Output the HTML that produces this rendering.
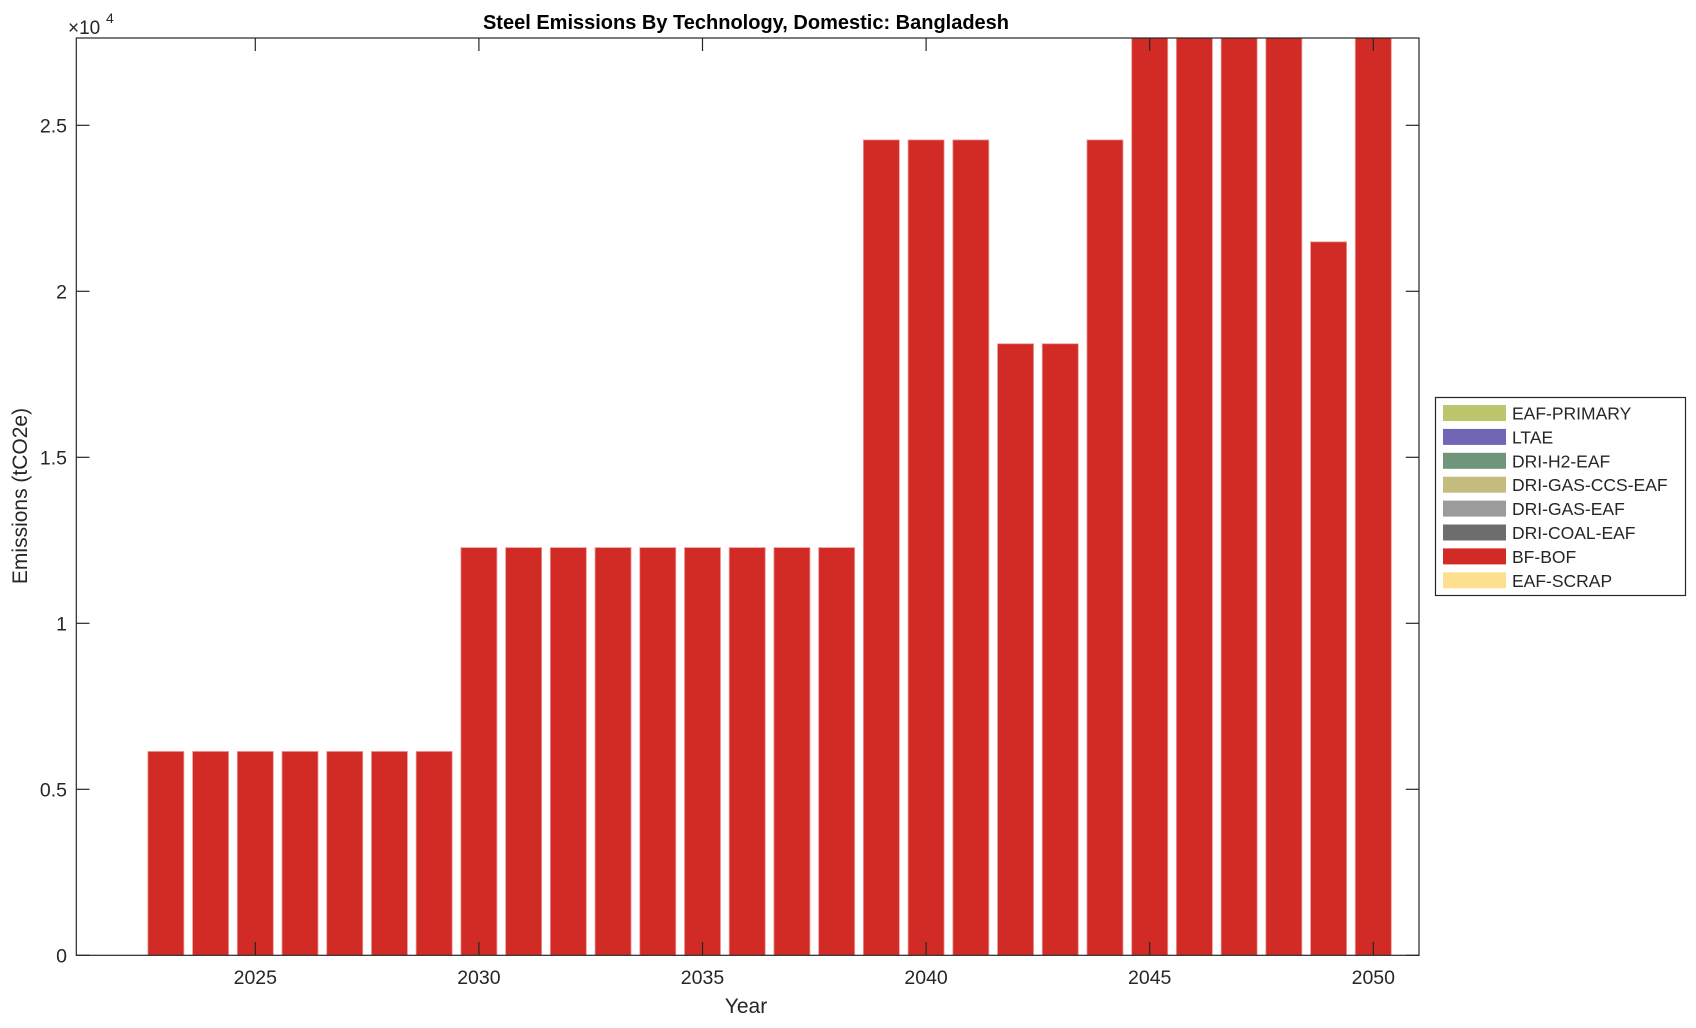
<!DOCTYPE html>
<html><head><meta charset="utf-8"><style>
body{margin:0;background:#fff;}
svg text{font-family:"Liberation Sans",Arial,sans-serif;fill:#262626;}
</style></head><body>
<svg width="1696" height="1023" xmlns="http://www.w3.org/2000/svg">
<rect width="1696" height="1023" fill="#fff"/>
<g id="bars" fill="#d22b25" stroke="#e89a96" stroke-width="0.8"></g>
<g stroke="#262626" stroke-width="1.2" fill="none">
<rect x="76.3" y="38" width="1342.7" height="917.3"/>
</g>
<g id="ticks" stroke="#262626" stroke-width="1.2"></g>
<g id="labels" font-size="19.5"></g>
<text x="746" y="29" font-size="20" font-weight="bold" text-anchor="middle" style="fill:#000">Steel Emissions By Technology, Domestic: Bangladesh</text>
<text x="68" y="34" font-size="19">×10</text><text x="106" y="23" font-size="14">4</text>
<text x="746" y="1013" font-size="21" text-anchor="middle">Year</text>
<text transform="translate(27,496) rotate(-90)" font-size="21" text-anchor="middle">Emissions (tCO2e)</text>
<rect x="1435.5" y="397.5" width="250" height="198" fill="#fff" stroke="#262626" stroke-width="1.2"/>
<g id="legend" font-size="17.5"></g>
</svg>
<script>
const ns="http://www.w3.org/2000/svg";
function el(p,t,a,txt){const e=document.createElementNS(ns,t);for(const k in a)e.setAttribute(k,a[k]);if(txt!==undefined)e.textContent=txt;document.getElementById(p).appendChild(e);}
const X=y=>255.3+(y-2025)*44.72, Y=v=>955.3-v*332;
const vals={};
for(let y=2023;y<=2029;y++)vals[y]=0.614;
for(let y=2030;y<=2038;y++)vals[y]=1.228;
[2039,2040,2041,2044].forEach(y=>vals[y]=2.456);
vals[2042]=vals[2043]=1.842;
[2045,2046,2047,2048,2050].forEach(y=>vals[y]=2.8);
vals[2049]=2.149;
for(const y in vals){const top=Math.max(Y(vals[y]),38);el('bars','rect',{x:X(+y)-18,y:top,width:36,height:955.3-top});}
for(let y=2025;y<=2050;y+=5){const x=X(y);el('ticks','line',{x1:x,x2:x,y1:955.3,y2:942});el('ticks','line',{x1:x,x2:x,y1:38,y2:51});el('labels','text',{x:x,y:984,'text-anchor':'middle'},String(y));}
[0,0.5,1,1.5,2,2.5].forEach(v=>{const y=Y(v);el('ticks','line',{x1:76.3,x2:89.5,y1:y,y2:y});el('ticks','line',{x1:1419,x2:1405.8,y1:y,y2:y});el('labels','text',{x:67,y:y+7,'text-anchor':'end'},String(v));});
const L=[["EAF-PRIMARY","#bdc66c"],["LTAE","#7166b5"],["DRI-H2-EAF","#6f957a"],["DRI-GAS-CCS-EAF","#c4bb7d"],["DRI-GAS-EAF","#9b9b9b"],["DRI-COAL-EAF","#6d6d6d"],["BF-BOF","#d22b25"],["EAF-SCRAP","#fde08f"]];
L.forEach((d,i)=>{const cy=413+i*23.9;el('legend','rect',{x:1443,y:cy-8,width:63,height:16,fill:d[1]});el('legend','text',{x:1512,y:cy+6.5},d[0]);});
</script>
</body></html>
